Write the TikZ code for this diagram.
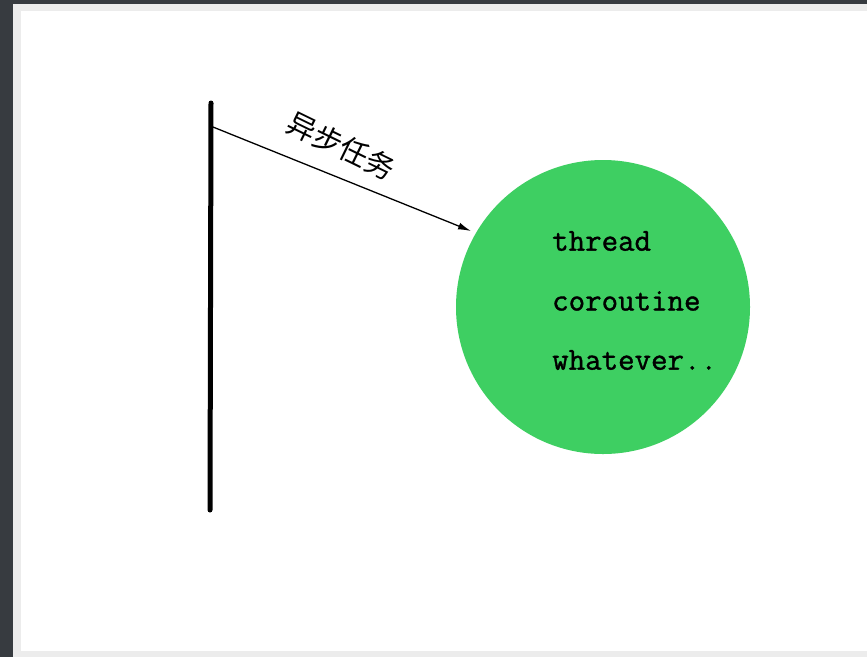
\documentclass[tikz,border=0pt]{standalone}
\usepackage{fontspec}
\newfontfamily\codefont{Latin Modern Mono}[FakeBold=1.2]
\newfontfamily\cjk{Noto Sans CJK SC}
\usetikzlibrary{arrows.meta}
\definecolor{darkframe}{HTML}{373B40}
\definecolor{grayframe}{HTML}{ECECEC}
\definecolor{ballgreen}{HTML}{3ECF62}
\tikzset{
  codeline/.style={anchor=west, font=\codefont\fontsize{32}{34}\selectfont, inner sep=0pt},
  timeline/.style={line width=5pt, line cap=round},
}
\begin{document}
\begin{tikzpicture}[x=1pt,y=-1pt]
\useasboundingbox (0,0) rectangle (867,657);
\fill[darkframe] (0,0) rectangle (867,657);
\fill[grayframe] (13,4) rectangle (867,657);
\fill[white] (21,11) rectangle (867,651);
% vertical line
\coordinate (top) at (211,103);
\coordinate (bot) at (210,510);
\draw[timeline] (top) -- (bot);
% circle
\node[circle, fill=ballgreen, minimum size=294pt, inner sep=0pt] (ball) at (603,307) {};
\node[codeline] (t1) at (552,241) {thread};
\node[codeline] (t2) at (552,301) {coroutine};
\node[codeline] (t3) at (552,360) {whatever..};
% arrow
\coordinate (start) at (213,127);
\coordinate (tip) at (471,231);
\draw[line width=1.3pt, -{Latex[length=13pt,width=7pt]}] (start) -- (tip);
\node[font=\cjk\fontsize{29}{31}\selectfont, rotate=-26, inner sep=0pt] (lbl) at (341,146) {异步任务};
\end{tikzpicture}
\end{document}
